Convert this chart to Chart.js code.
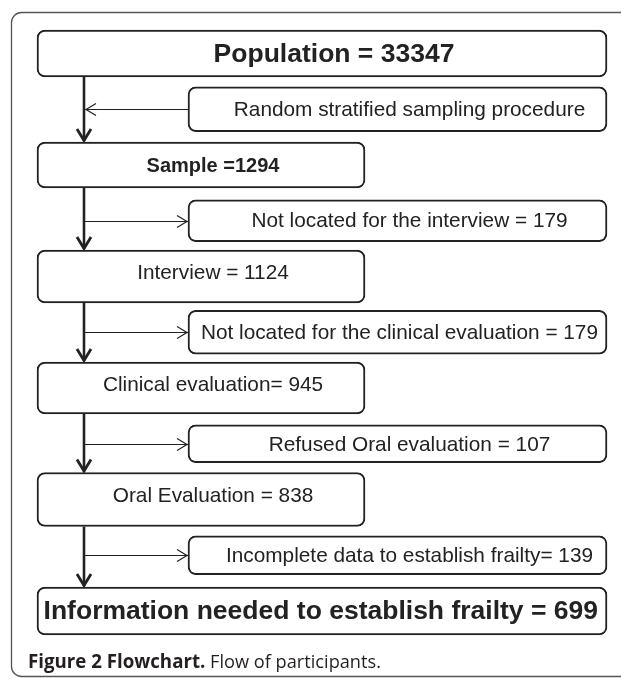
<!DOCTYPE html>
<html>
<head>
<meta charset="utf-8">
<script src="https://cdn.jsdelivr.net/npm/chart.js@4.4.0/dist/chart.umd.min.js"></script>
<style>
  html, body { margin: 0; padding: 0; background: #fff; }
  #wrap { width: 621px; height: 678px; }
</style>
</head>
<body>
<div id="wrap"><canvas id="flow" width="621" height="678"></canvas></div>
<script>
// Flow of participants: stages kept, and people lost between stages
const stageNames = ["Population", "Sample", "Interview", "Clinical evaluation", "Oral Evaluation", "Information needed to establish frailty"];
const stageCounts = [33347, 1294, 1124, 945, 838, 699];
const stageSeps = [" = ", " =", " = ", "= ", " = ", " = "];

const lossNames = ["Random stratified sampling procedure", "Not located for the interview", "Not located for the clinical evaluation", "Refused Oral evaluation", "Incomplete data to establish frailty"];
const lossCounts = [null, 179, 179, 107, 139];
const lossSeps = ["", " = ", " = ", " = ", "= "];

const captionBold = "Figure 2 Flowchart.";
const captionText = " Flow of participants.";

// Layout (page pixels, x axis runs 0..621)
const COL_MAIN = [37, 365];
const COL_WIDE = [37, 607];
const COL_SIDE = [188, 607];
const TRUNK_X = 84;
const rowHeights = [47, 45, 46, 42, 53, 44, 52, 38, 54, 39, 48];
const FONT = "'Liberation Sans', Arial, sans-serif";
const INK = "#222";

// Build rows top to bottom: stage, loss, stage, loss ...
const rows = [];
stageNames.forEach((name, i) => {
  const wide = i === 0 || i === stageNames.length - 1;
  rows.push({
    kind: "stage",
    text: name + stageSeps[i] + stageCounts[i],
    span: wide ? COL_WIDE : COL_MAIN,
    font: wide ? "bold 26.5px " + FONT : (i === 1 ? "bold 20px " + FONT : "20.8px " + FONT),
    raise: (!wide && i !== 1) ? 4 : 0
  });
  if (i < lossNames.length) {
    rows.push({
      kind: "loss",
      text: lossNames[i] + (lossCounts[i] === null ? "" : lossSeps[i] + lossCounts[i]),
      span: COL_SIDE,
      font: "20.8px " + FONT,
      raise: 0,
      toTrunk: lossCounts[i] === null
    });
  }
});

// One floating bar per row so each box gets its own height
const datasets = rows.map((r, idx) => ({
  label: r.text,
  data: rows.map((_, j) => (j === idx ? r.span : null)),
  barThickness: rowHeights[idx],
  backgroundColor: "#fff",
  borderColor: INK,
  borderWidth: 2,
  borderRadius: 8,
  borderSkipped: false,
  grouped: false
}));

function boxOf(chart, idx) {
  const el = chart.getDatasetMeta(idx).data[idx];
  const p = el.getProps(["x", "y", "base", "height"], true);
  return {
    left: Math.min(p.x, p.base), right: Math.max(p.x, p.base),
    top: p.y - p.height / 2, bottom: p.y + p.height / 2, cy: p.y
  };
}

const flowPlugin = {
  id: "flow",
  beforeDraw(chart) {
    const ctx = chart.ctx;
    ctx.save();
    ctx.fillStyle = "#fff";
    ctx.fillRect(0, 0, chart.width, chart.height);
    // outer figure frame
    ctx.strokeStyle = "#555";
    ctx.lineWidth = 1.3;
    ctx.beginPath();
    ctx.roundRect(11.5, 12.5, 640, 664, 10);
    ctx.stroke();
    ctx.restore();
  },
  afterDatasetsDraw(chart) {
    const ctx = chart.ctx;
    const xs = chart.scales.x;
    const tx = xs.getPixelForValue(TRUNK_X);
    ctx.save();
    ctx.strokeStyle = INK;
    ctx.fillStyle = INK;

    // trunk arrows between stage boxes
    const stageIdx = rows.map((r, i) => (r.kind === "stage" ? i : -1)).filter(i => i >= 0);
    for (let k = 0; k < stageIdx.length - 1; k++) {
      const a = boxOf(chart, stageIdx[k]);
      const b = boxOf(chart, stageIdx[k + 1]);
      ctx.lineWidth = 2.6;
      ctx.beginPath();
      ctx.moveTo(tx, a.bottom);
      ctx.lineTo(tx, b.top - 1);
      ctx.stroke();
      ctx.lineWidth = 2.8;
      ctx.lineJoin = "miter";
      ctx.beginPath();
      ctx.moveTo(tx - 7, b.top - 13);
      ctx.lineTo(tx, b.top - 1.5);
      ctx.lineTo(tx + 7, b.top - 13);
      ctx.stroke();
    }

    // side arrows to/from loss boxes
    rows.forEach((r, i) => {
      if (r.kind !== "loss") return;
      const b = boxOf(chart, i);
      const y = Math.round(b.cy) + 0.5;
      ctx.lineWidth = 1.2;
      ctx.beginPath();
      ctx.moveTo(tx, y);
      ctx.lineTo(b.left, y);
      ctx.stroke();
      ctx.beginPath();
      if (r.toTrunk) {
        const tip = tx + 2;
        ctx.moveTo(tip + 10, y - 6);
        ctx.lineTo(tip, y);
        ctx.lineTo(tip + 10, y + 6);
      } else {
        const tip = b.left - 1;
        ctx.moveTo(tip - 10, y - 6);
        ctx.lineTo(tip, y);
        ctx.lineTo(tip - 10, y + 6);
      }
      ctx.stroke();
    });

    // box texts
    ctx.textBaseline = "middle";
    ctx.textAlign = "center";
    rows.forEach((r, i) => {
      const b = boxOf(chart, i);
      ctx.font = r.font;
      const w = ctx.measureText(r.text).width;
      const cx = Math.min((b.left + b.right) / 2 + 12, b.right - 9 - w / 2);
      ctx.fillText(r.text, cx, b.cy + 1 - r.raise);
    });

    // caption
    ctx.textAlign = "left";
    ctx.textBaseline = "alphabetic";
    ctx.font = "bold 18.7px 'Open Sans', sans-serif";
    ctx.fillStyle = "#231f20";
    ctx.fillText(captionBold, 28, 668);
    const bw = ctx.measureText(captionBold).width;
    ctx.font = "18.2px 'Open Sans', sans-serif";
    ctx.fillText(captionText, 28 + bw, 668);
    ctx.restore();
  }
};

new Chart(document.getElementById("flow"), {
  type: "bar",
  data: { labels: rows.map(r => r.text), datasets },
  options: {
    indexAxis: "y",
    responsive: false,
    animation: false,
    events: [],
    layout: { padding: { top: 25.6, bottom: 39.1, left: 0, right: 0 } },
    scales: {
      x: { type: "linear", min: 0, max: 621, display: false },
      y: { type: "category", display: false, offset: true }
    },
    plugins: { legend: { display: false }, tooltip: { enabled: false } }
  },
  plugins: [flowPlugin]
});
</script>
</body>
</html>
